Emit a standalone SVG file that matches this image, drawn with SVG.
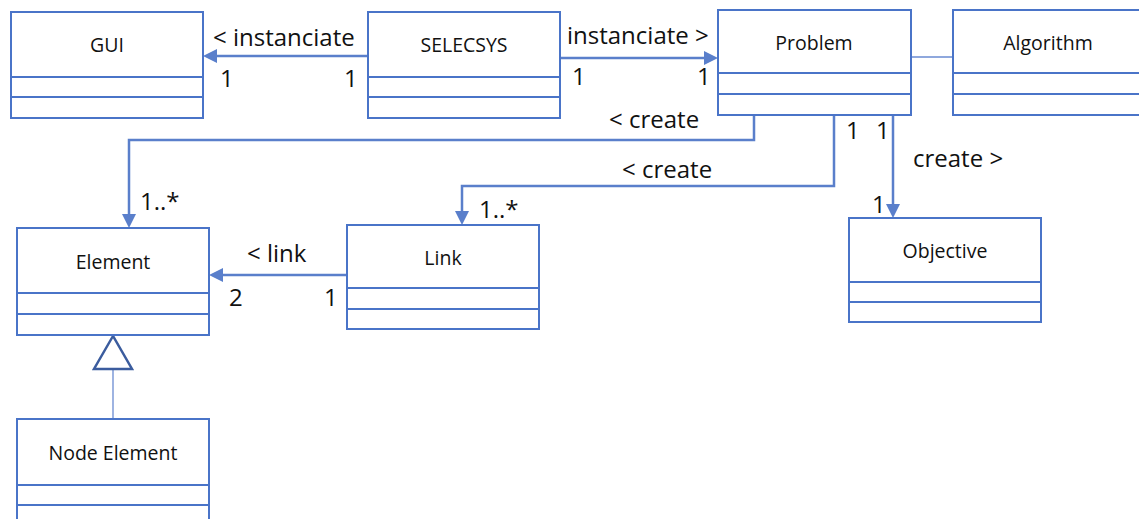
<svg xmlns="http://www.w3.org/2000/svg" width="1139" height="519" viewBox="0 0 1139 519">
<defs>
<style>
.box{fill:#fff;stroke:#4A74C8;stroke-width:2}
.nm{font-family:"Open Sans","Noto Sans",sans-serif;font-size:19.5px;fill:#111;text-anchor:middle}
.lb{font-family:"Open Sans","Noto Sans",sans-serif;font-size:24px;fill:#111}
.cn{fill:none;stroke:#5A7FCB;stroke-width:2.5}
.thin{fill:none;stroke:#6A8BD2;stroke-width:1.3}
.ah{fill:#5A7FCB}
</style>
</defs>
<rect width="1139" height="519" fill="#fff"/>
<g id="connectors">
<path class="cn" d="M368,56 H216"/>
<path class="ah" d="M203,56 L217,49 L217,63 Z"/>
<path class="cn" d="M560,58 H705"/>
<path class="ah" d="M718,58 L704,51 L704,65 Z"/>
<path class="thin" d="M911,57 H953"/>
<path class="cn" d="M754,115 V140 H129 V215"/>
<path class="ah" d="M129,228 L122,214 L136,214 Z"/>
<path class="cn" d="M834,115 V186 H462 V212"/>
<path class="ah" d="M462,225 L455,211 L469,211 Z"/>
<path class="cn" d="M893,115 V205"/>
<path class="ah" d="M893,218 L886,204 L900,204 Z"/>
<path class="cn" d="M347,275 H222"/>
<path class="ah" d="M209,275 L223,268 L223,282 Z"/>
<path class="thin" d="M113,369 V419"/>
<path d="M113,336 L94,369 L132,369 Z" fill="#fff" stroke="#3B5C9E" stroke-width="2.5"/>
<text class="lb" x="213" y="46">&lt; instanciate</text>
<text class="lb" x="220" y="87">1</text>
<text class="lb" x="344" y="87">1</text>
<text class="lb" x="567" y="44">instanciate &gt;</text>
<text class="lb" x="572" y="85">1</text>
<text class="lb" x="697" y="85">1</text>
<text class="lb" x="609" y="128">&lt; create</text>
<text class="lb" x="622" y="178">&lt; create</text>
<text class="lb" x="140" y="210">1..*</text>
<text class="lb" x="479" y="218">1..*</text>
<text class="lb" x="846" y="139">1</text>
<text class="lb" x="876" y="139">1</text>
<text class="lb" x="913" y="167">create &gt;</text>
<text class="lb" x="872" y="213">1</text>
<text class="lb" x="247" y="262">&lt; link</text>
<text class="lb" x="229" y="306">2</text>
<text class="lb" x="324" y="306">1</text>
</g>
<g id="gui">
<rect class="box" x="11" y="12" width="192" height="106"/>
<path class="box" d="M11,77 H203 M11,97 H203"/>
<text class="nm" x="107" y="52">GUI</text>
</g>
<g id="selecsys">
<rect class="box" x="368" y="12" width="192" height="106"/>
<path class="box" d="M368,77 H560 M368,97 H560"/>
<text class="nm" x="464" y="52">SELECSYS</text>
</g>
<g id="problem">
<rect class="box" x="718" y="10" width="193" height="105"/>
<path class="box" d="M718,73 H911 M718,94 H911"/>
<text class="nm" x="814" y="50">Problem</text>
</g>
<g id="algorithm">
<rect class="box" x="953" y="10" width="192" height="105"/>
<path class="box" d="M953,73 H1139 M953,94 H1139"/>
<text class="nm" x="1048" y="50">Algorithm</text>
</g>
<g id="element">
<rect class="box" x="17" y="228" width="192" height="107"/>
<path class="box" d="M17,293 H209 M17,314 H209"/>
<text class="nm" x="113" y="269">Element</text>
</g>
<g id="link">
<rect class="box" x="347" y="225" width="192" height="104"/>
<path class="box" d="M347,288 H539 M347,309 H539"/>
<text class="nm" x="443" y="265">Link</text>
</g>
<g id="objective">
<rect class="box" x="849" y="218" width="192" height="104"/>
<path class="box" d="M849,282 H1041 M849,302 H1041"/>
<text class="nm" x="945" y="258">Objective</text>
</g>
<g id="node-element">
<rect class="box" x="17" y="419" width="192" height="110"/>
<path class="box" d="M17,485 H209 M17,505 H209"/>
<text class="nm" x="113" y="460">Node Element</text>
</g>
</svg>
